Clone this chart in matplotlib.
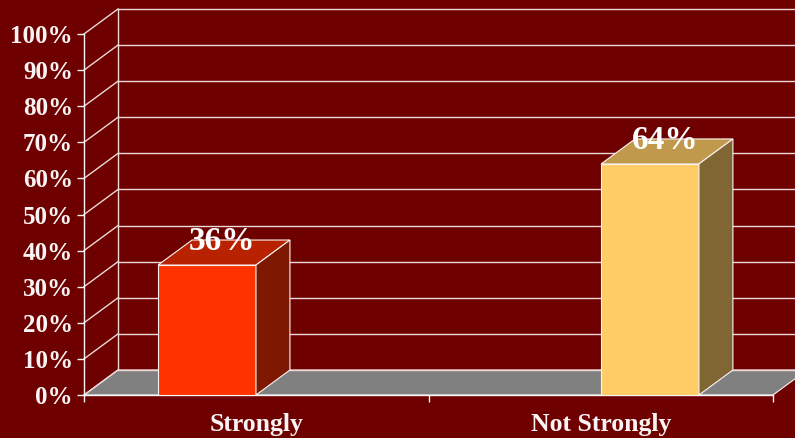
import matplotlib.pyplot as plt
from matplotlib.patches import Polygon

categories = ["Strongly", "Not Strongly"]
values = [36, 64]
front_colors = ["#FF3300", "#FFCC66"]
top_colors = ["#B82200", "#C0994D"]
side_colors = ["#7E1800", "#806633"]
y_ticks = list(range(0, 101, 10))
y_labels = [f"{t}%" for t in y_ticks]

bg = "#6E0000"
fg = "#FAF4F4"
plt.rcParams["font.family"] = ["Liberation Serif", "DejaVu Serif"]
plt.rcParams["font.weight"] = "bold"

fig = plt.figure(figsize=(7.95, 4.38), dpi=100, facecolor=bg)
ax = fig.add_axes([84 / 795, 43 / 438, 689 / 795, 361 / 438])
ax.set_facecolor("none")

xmin, xmax = -0.2777, 1.2777
ax.set_xlim(xmin, xmax)
ax.set_ylim(0, 100)

# 3D depth offset (data units)
dx, dy = 0.0767, 6.93
bw = 0.221

# floor
floor = Polygon([(xmin, 0), (xmax, 0), (xmax + dx, dy), (xmin + dx, dy)],
                closed=True, facecolor="#808080", edgecolor=fg, lw=0.8,
                clip_on=False, zorder=1)
ax.add_patch(floor)

# back wall and side wall grid
for t in y_ticks:
    ax.plot([xmin + dx, xmax + dx + 0.2], [t + dy, t + dy], color="#EED8D8",
            lw=1.0, clip_on=False, zorder=2)
    ax.plot([xmin, xmin + dx], [t, t + dy], color="#EED8D8", lw=1.0,
            clip_on=False, zorder=2)
ax.plot([xmin + dx, xmin + dx], [dy, 100 + dy], color="#EED8D8", lw=1.0,
        clip_on=False, zorder=2)

# bars
for i, v in enumerate(values):
    x0 = i - bw / 2
    x1 = i + bw / 2
    front = Polygon([(x0, 0), (x1, 0), (x1, v), (x0, v)], closed=True,
                    facecolor=front_colors[i], edgecolor=fg, lw=0.8, zorder=5)
    top = Polygon([(x0, v), (x1, v), (x1 + dx, v + dy), (x0 + dx, v + dy)],
                  closed=True, facecolor=top_colors[i], edgecolor=fg, lw=0.8,
                  zorder=5)
    side = Polygon([(x1, 0), (x1 + dx, dy), (x1 + dx, v + dy), (x1, v)],
                   closed=True, facecolor=side_colors[i], edgecolor=fg, lw=0.8,
                   zorder=5)
    for p in (front, top, side):
        ax.add_patch(p)
    ax.text(i + dx / 2 - 0.005, v + dy - 0.3, f"{v}%", ha="center", va="center",
            color="white", fontsize=24, fontweight="bold", zorder=6)

# axes styling
for s in ("top", "right"):
    ax.spines[s].set_visible(False)
for s in ("left", "bottom"):
    ax.spines[s].set_color(fg)
    ax.spines[s].set_linewidth(1.0)
    ax.spines[s].set_zorder(4)

ax.set_yticks(y_ticks)
ax.set_yticklabels(y_labels)
ax.tick_params(axis="y", colors=fg, length=5, width=1, labelsize=18, pad=3)

mid = (xmin + xmax) / 2
ax.set_xticks([xmin, mid, xmax])
ax.set_xticklabels([])
ax.set_xticks([(xmin + mid) / 2, (mid + xmax) / 2], minor=True)
ax.set_xticklabels(categories, minor=True)
ax.tick_params(axis="x", which="major", colors=fg, length=5, width=1)
ax.tick_params(axis="x", which="minor", colors=fg, length=0, labelsize=18.5, pad=13)

for lbl in ax.get_yticklabels() + ax.get_xticklabels(minor=True):
    lbl.set_fontweight("bold")

fig.savefig("out.png", dpi=100, facecolor=bg)
